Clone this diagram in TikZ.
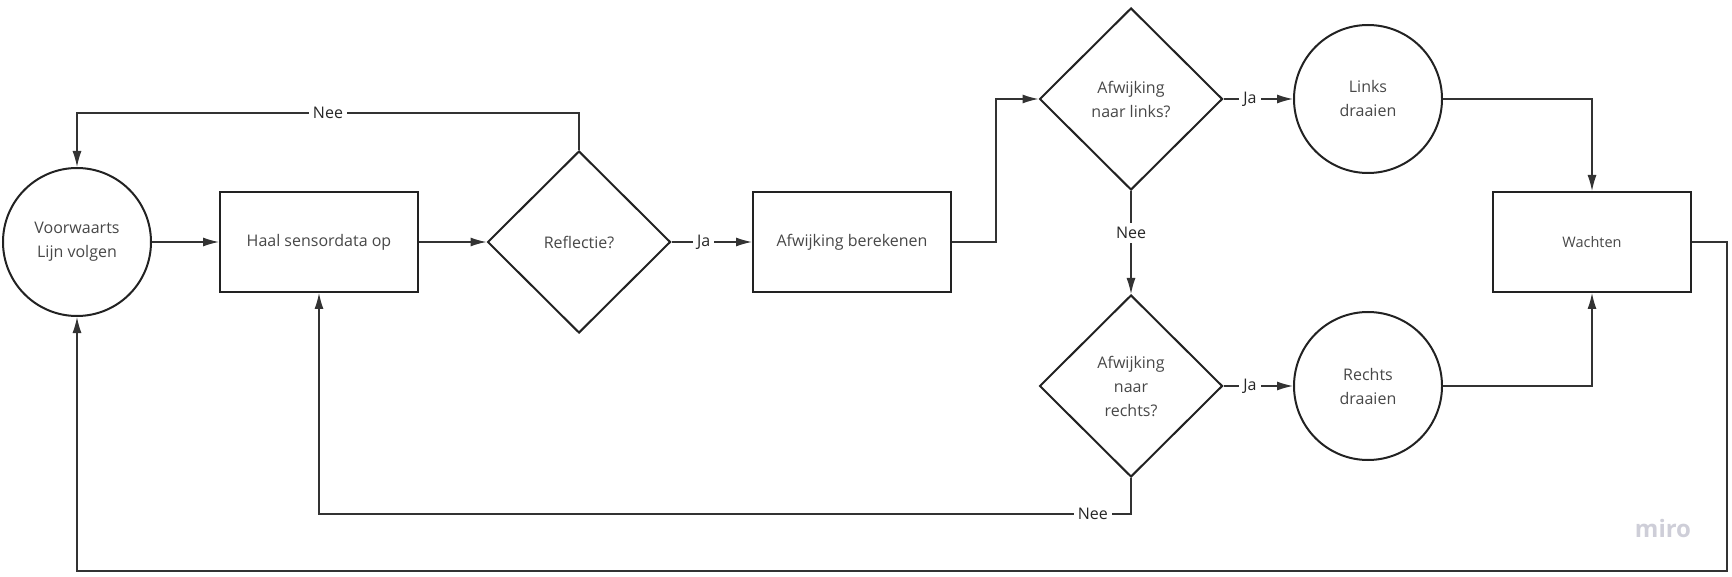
\documentclass[tikz,border=0pt]{standalone}
\usepackage{fontspec}
\setmainfont{Open Sans}
\usepackage{tikz}
\usetikzlibrary{arrows.meta,shapes.geometric}
\usepackage{xcolor}
\definecolor{rand}{HTML}{222222}
\definecolor{lijn}{HTML}{333333}
\definecolor{grijs}{HTML}{474747}
\definecolor{logo}{RGB}{206,206,216}

\begin{document}
\begin{tikzpicture}[x=1pt, y=-1pt,
        >={Latex[length=16pt,width=9pt]},
        basis/.style={draw=rand, line width=2pt, inner sep=0pt, text=grijs, align=center, font=\fontsize{16}{24}\selectfont},
        cirkel/.style={basis, circle, minimum size=148pt},
        blok/.style={basis, rectangle, minimum width=198pt, minimum height=100pt},
        ruit/.style={basis, diamond, minimum width=183pt, minimum height=182pt},
        lbl/.style={fill=white, inner sep=4pt, text=black!85, font=\fontsize{16}{20}\selectfont},
        pijl/.style={->, draw=lijn, line width=1.3pt}]
        \useasboundingbox (0,0) rectangle (1732,577);
        % stappen
        \node[cirkel] (rijden) at (77,242) {Voorwaarts\\Lijn volgen};
        \node[blok] (haal) at (319,242) {Haal sensordata op};
        \node[ruit] (reflectie) at (579,242) {Reflectie?};
        \node[blok] (berekenen) at (852,242) {Afwijking berekenen};
        \node[ruit] (links) at (1131,99) {Afwijking\\naar links?};
        \node[ruit] (rechts) at (1131,386) {Afwijking\\naar\\rechts?};
        \node[cirkel] (linksom) at (1368,99) {Links\\draaien};
        \node[cirkel] (rechtsom) at (1368,386) {Rechts\\draaien};
        \node[blok, font=\fontsize{14.5}{18}\selectfont] (wachten) at (1592,242) {Wachten};
        \node[text=logo, font=\fontsize{24}{26}\selectfont\bfseries] (miro) at (1663,528) {miro};
        % hulppunten
        \coordinate (boven) at (0,113);
        \coordinate (knik) at (996,242);
        \coordinate (onder) at (0,514);
        \coordinate (rechtsboven) at (1727,242);
        \coordinate (bodem) at (1727,571);
        % verbindingen
        \draw[pijl] (rijden) -- (haal);
        \draw[pijl] (haal) -- (reflectie);
        \draw[pijl] (reflectie) -- node[lbl, pos=0.4] {Ja} (berekenen);
        \draw[pijl] (reflectie.north) -- (reflectie.north |- boven) -- node[lbl] {Nee} (rijden.north |- boven) -- (rijden.north);
        \draw[pijl] (berekenen.east) -- (knik) |- (links.west);
        \draw[pijl] (links) -- node[lbl, pos=0.38] {Ja} (linksom);
        \draw[pijl] (links) -- node[lbl, pos=0.41] {Nee} (rechts);
        \draw[pijl] (rechts) -- node[lbl, pos=0.38] {Ja} (rechtsom);
        \draw[pijl] (rechts.south) -- (rechts.south |- onder) -- node[lbl, pos=0.047] {Nee} (haal.south |- onder) -- (haal.south);
        \draw[pijl] (linksom.east) -| (wachten.north);
        \draw[pijl] (rechtsom.east) -| (wachten.south);
        \draw[pijl] (wachten.east) -- (rechtsboven) -- (bodem) -| (rijden.south);
\end{tikzpicture}
\end{document}
